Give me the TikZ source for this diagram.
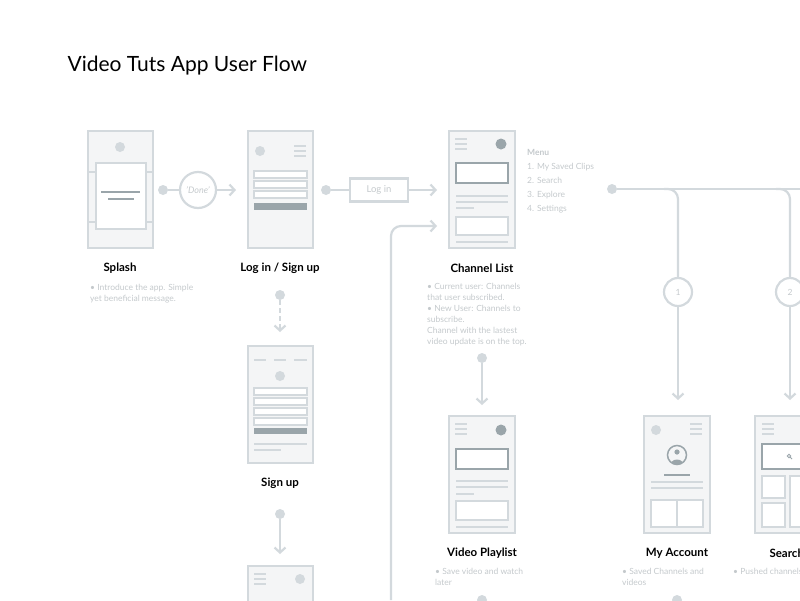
\documentclass[tikz,border=0pt]{standalone}
\usepackage{fontspec}
\setmainfont{Lato}
\usetikzlibrary{arrows.meta}
\definecolor{ln}{HTML}{D3D9DD}
\definecolor{fl}{HTML}{F4F5F6}
\definecolor{dk}{HTML}{9AA5AA}
\definecolor{tx}{HTML}{C4C9CC}
\begin{document}
\begin{tikzpicture}[x=1pt,y=-1pt,
 phone/.style={draw=ln,fill=fl,line width=2.2pt},
 lnw/.style={draw=ln,line width=2pt},
 thin/.style={draw=ln,line width=1.3pt},
 dkl/.style={draw=dk,line width=2.2pt},
 flow/.style={draw=ln,line width=2.2pt},
 arr/.style={flow,-{Straight Barb[length=5pt,width=11pt,line width=2.2pt]}},
 dot/.style={circle,fill=ln,inner sep=0pt,minimum size=10pt},
 lbl/.style={font=\bfseries\fontsize{11.5}{13}\selectfont,text=black},
 desc/.style={font=\fontsize{8.5}{11}\selectfont,text=tx,align=left,anchor=north west,inner sep=0pt},
 ham/.style={draw=ln,line width=1.5pt}]
\useasboundingbox (0,0) rectangle (800,600);
\clip (0,0) rectangle (800,600);
\node[anchor=west,font=\fontsize{21}{24}\selectfont] (title) at (64,66) {Video Tuts App User Flow};
\def\hamb#1#2{\draw[ham] (#1,#2) -- ++(12,0) (#1,#2+5) -- ++(12,0) (#1,#2+10) -- ++(12,0);}
% Splash
\draw[phone] (88,131) rectangle (153,248);
\fill[color=ln] (120,147) circle (5);
\draw[lnw] (88,172) -- (153,172) (88,222) -- (153,222);
\draw[lnw,fill=white] (96,163) rectangle (146,229);
\draw[dkl] (101,192) -- (140,192) (108,199) -- (134,199);
\node[lbl] (l1) at (120,268) {Splash};
\node[desc] (d1) at (90,284) {• Introduce the app. Simple\\yet beneficial message.};
\node[dot] (s1) at (163,190) {};
\node[circle,draw=ln,line width=2.2pt,minimum size=36pt,inner sep=0pt,font=\itshape\fontsize{9}{10}\selectfont,text=tx] (done) at (198,190) {'Done'};
\coordinate (a1) at (236,190);
\draw[flow] (s1) -- (done);
\draw[arr] (done) -- (a1);
% Login
\draw[phone] (248,131) rectangle (313,248);
\fill[color=ln] (260,151) circle (5);
\hamb{294}{146}
\foreach \y in {171,181,191} \draw[thin,fill=white] (254,\y) rectangle (307,\y+7);
\fill[color=dk] (254,203) rectangle (307,210);
\node[lbl] (l2) at (280,268) {Log in / Sign up};
\node[dot] (s2) at (326,190) {};
\node[draw=ln,line width=2.2pt,minimum width=58pt,minimum height=23pt,inner sep=0pt,font=\fontsize{9.5}{10}\selectfont,text=tx] (login) at (379,190) {Log in};
\coordinate (a2) at (437,190);
\draw[flow] (s2) -- (login);
\draw[arr] (login) -- (a2);
% Channel list
\draw[phone] (449,131) rectangle (515,248);
\hamb{455}{139}
\fill[color=dk] (501,144) circle (5.5);
\draw[dkl,fill=white] (456,163) rectangle (508,183);
\draw[lnw] (456,196) -- (508,196) (456,202) -- (508,202);
\draw[lnw] (456,208) -- (474,208);
\draw[lnw,fill=white] (456,217) rectangle (508,235);
\draw[lnw] (456,242) -- (508,242);
\node[lbl] (l3) at (482,268) {Channel List};
\node[desc] (d3) at (427,283) {• Current user: Channels\\that user subscribed.\\• New User: Channels to\\subscribe.\\Channel with the lastest\\video update is on the top.};
\node[desc,font=\bfseries\fontsize{8.5}{14}\selectfont] (menu) at (527,149) {Menu};
\node[desc,font=\fontsize{8.5}{14}\selectfont] (menu2) at (527,163) {1. My Saved Clips\\2. Search\\3. Explore\\4. Settings};
\coordinate (b0) at (391,600);
\coordinate (a3) at (437,226);
\draw[arr,rounded corners=10pt] (b0) -- (391,226) -- (a3);
% menu branches
\node[dot] (s3) at (612,189) {};
\coordinate (e3) at (800,189);
\draw[flow] (s3) -- (e3);
\node[circle,draw=ln,line width=2.2pt,minimum size=28pt,inner sep=0pt,font=\fontsize{8.5}{9}\selectfont,text=tx] (c1) at (678,292) {1};
\node[circle,draw=ln,line width=2.2pt,minimum size=28pt,inner sep=0pt,font=\fontsize{8.5}{9}\selectfont,text=tx] (c2) at (790,292) {2};
\coordinate (a4) at (678,400);
\coordinate (a5) at (790,400);
\draw[flow,rounded corners=10pt] (664,189) -- (678,189) -- (c1);
\draw[flow,rounded corners=10pt] (776,189) -- (790,189) -- (c2);
\draw[arr] (c1) -- (a4);
\draw[arr] (c2) -- (a5);
% channel -> playlist
\node[dot] (s4) at (482,358) {};
\coordinate (a6) at (482,405);
\draw[arr] (s4) -- (a6);
% Signup
\node[dot] (s5) at (280,295) {};
\coordinate (a7) at (280,332);
\draw[arr,dash pattern=on 5pt off 3pt] (s5) -- (a7);
\draw[phone] (248,346) rectangle (313,463);
\draw[lnw] (254,360) -- (266,360) (274,360) -- (286,360) (294,360) -- (307,360);
\fill[color=ln] (280,376) circle (5);
\foreach \y in {388,398,408,418} \draw[thin,fill=white] (254,\y) rectangle (307,\y+7);
\fill[color=dk] (254,428) rectangle (307,434);
\draw[lnw] (254,444) -- (307,444) (254,450) -- (281,450);
\node[lbl] (l4) at (280,483) {Sign up};
\node[dot] (s6) at (280,514) {};
\coordinate (a8) at (280,554);
\draw[arr] (s6) -- (a8);
\draw[phone] (248,566) rectangle (313,640);
\hamb{254}{574}
\fill[color=ln] (300,579) circle (5);
% Video playlist
\draw[phone] (449,416) rectangle (515,533);
\hamb{455}{424}
\fill[color=dk] (501,430) circle (5.5);
\draw[dkl,fill=white] (456,449) rectangle (508,469);
\draw[lnw] (456,481) -- (508,481) (456,487) -- (508,487);
\draw[lnw] (456,494) -- (474,494);
\draw[lnw,fill=white] (456,501) rectangle (508,520);
\draw[lnw] (456,527) -- (508,527);
\node[lbl] (l5) at (482,553) {Video Playlist};
\node[desc] (d5) at (435,568) {• Save video and watch\\later};
\node[dot] (s7) at (482,600) {};
% My account
\draw[phone] (644,416) rectangle (710,533);
\fill[color=ln] (656,430) circle (5);
\hamb{690}{424}
\draw[dk,line width=1.5pt] (677,455) circle (9.5);
\fill[color=dk] (677,452) circle (2.6);
\begin{scope}\clip (677,455) circle (9.5); \fill[color=dk] (677,465) ellipse (6.5 and 5.5);\end{scope}
\draw[dkl] (664,475) -- (690,475);
\draw[lnw] (651,482) -- (703,482) (651,488) -- (703,488);
\draw[lnw,fill=white] (651,500) rectangle (703,527);
\draw[lnw] (677,500) -- (677,527);
\node[lbl] (l6) at (677,553) {My Account};
\node[desc] (d6) at (622,568) {• Saved Channels and\\videos};
\node[dot] (s8) at (677,600) {};
% Search
\draw[phone] (755,416) rectangle (821,533);
\hamb{762}{424}
\draw[thin,draw=dk,fill=white] (762,444) rectangle (814,469);
\draw[dk,line width=0.9pt] (789,456) circle (1.8) (790.3,457.3) -- (792,459);
\draw[lnw,fill=white] (762,476) rectangle (785,498) (762,503) rectangle (785,527) (790,476) rectangle (814,527);
\node[lbl,anchor=west] (l7) at (766,553) {Search};
\node[desc] (d7) at (733,568) {• Pushed channels};
\end{tikzpicture}
\end{document}
